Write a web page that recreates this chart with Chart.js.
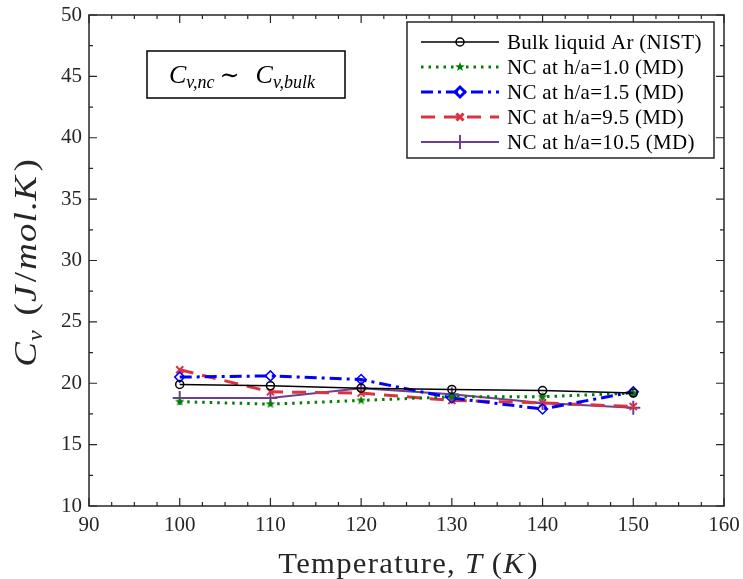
<!DOCTYPE html>
<html>
<head>
<meta charset="utf-8">
<script src="https://cdn.jsdelivr.net/npm/chart.js@4.4.0/dist/chart.umd.min.js"></script>
<style>
  html, body { margin: 0; padding: 0; background: #fff; }
  canvas { display: block; }
</style>
</head>
<body>
<canvas id="cvChart" width="743" height="579"></canvas>
<script>
// temperatures (K) and heat capacity Cv (J/mol.K)
const temps = [100, 110, 120, 130, 140, 150];
const cvBulk = [19.9, 19.8, 19.6, 19.5, 19.4, 19.2];
const cvH10 = [18.5, 18.3, 18.6, 18.9, 18.9, 19.2];
const cvH15 = [20.5, 20.6, 20.3, 18.8, 17.9, 19.3];
const cvH95 = [21.1, 19.3, 19.2, 18.6, 18.4, 18.1];
const cvH105 = [18.8, 18.8, 19.6, 19.1, 18.4, 18.0];

const seriesLabels = [
  'Bulk liquid Ar (NIST)',
  'NC at h/a=1.0 (MD)',
  'NC at h/a=1.5 (MD)',
  'NC at h/a=9.5 (MD)',
  'NC at h/a=10.5 (MD)'
];

const xMin = 90, xMax = 160, xStep = 10;
const yMin = 10, yMax = 50, yStep = 5;

const AXIS = '#262626';
const SERIF = '"Liberation Serif", "DejaVu Serif", serif';

// filled pentagram marker
function starMarker(color, r) {
  const c = document.createElement('canvas');
  const s = Math.ceil(r * 2 + 2);
  c.width = s; c.height = s;
  const g = c.getContext('2d');
  g.fillStyle = color;
  g.beginPath();
  for (let i = 0; i < 10; i++) {
    const rad = i % 2 === 0 ? r : r * 0.42;
    const a = -Math.PI / 2 + i * Math.PI / 5;
    const px = s / 2 + rad * Math.cos(a), py = s / 2 + rad * Math.sin(a);
    if (i === 0) g.moveTo(px, py); else g.lineTo(px, py);
  }
  g.closePath();
  g.fill();
  return c;
}

function pts(vals) {
  return temps.map((t, i) => ({ x: t, y: vals[i] }));
}

const datasets = [
  {
    label: seriesLabels[0], data: pts(cvBulk),
    borderColor: '#000000', borderWidth: 1.5,
    pointStyle: 'circle', pointRadius: 4, pointBorderWidth: 1.5,
    pointBorderColor: '#000000', pointBackgroundColor: 'rgba(0,0,0,0)'
  },
  {
    label: seriesLabels[1], data: pts(cvH10),
    borderColor: '#008000', borderWidth: 3, borderDash: [2.5, 5],
    pointStyle: starMarker('#008000', 5), pointRadius: 5
  },
  {
    label: seriesLabels[2], data: pts(cvH15),
    borderColor: '#0000ff', borderWidth: 3, borderDash: [12, 5, 3, 5],
    pointStyle: 'rectRot', pointRadius: 5, pointBorderWidth: 1.5,
    pointBorderColor: '#0000ff', pointBackgroundColor: 'rgba(0,0,0,0)'
  },
  {
    label: seriesLabels[3], data: pts(cvH95),
    borderColor: '#dc3240', borderWidth: 3, borderDash: [14, 9],
    pointStyle: 'crossRot', pointRadius: 5, pointBorderWidth: 2,
    pointBorderColor: '#dc3240'
  },
  {
    label: seriesLabels[4], data: pts(cvH105),
    borderColor: '#6e3f8e', borderWidth: 2,
    pointStyle: 'cross', pointRadius: 7, pointBorderWidth: 2,
    pointBorderColor: '#6e3f8e'
  }
];
datasets.forEach(d => { d.fill = false; d.tension = 0; d.borderCapStyle = 'butt'; });

// draw a row of mixed-style text pieces, centred on cx
function richText(ctx, parts, cx, baseY) {
  let w = 0;
  parts.forEach(p => { ctx.font = p.font; w += ctx.measureText(p.t).width + (p.gap || 0); });
  let x = cx - w / 2;
  ctx.textAlign = 'left';
  ctx.textBaseline = 'alphabetic';
  parts.forEach(p => {
    ctx.font = p.font;
    ctx.fillText(p.t, x, baseY + (p.dy || 0));
    x += ctx.measureText(p.t).width + (p.gap || 0);
  });
}

const framePlugin = {
  id: 'frame',
  afterDraw(chart) {
    const ctx = chart.ctx;
    const a = chart.chartArea;
    const xs = chart.scales.x, ys = chart.scales.y;
    ctx.save();
    ctx.strokeStyle = AXIS;
    ctx.lineWidth = 1.5;
    ctx.strokeRect(a.left, a.top, a.right - a.left, a.bottom - a.top);

    // inward ticks on all four sides, minor every quarter step
    ctx.lineWidth = 1.2;
    ctx.beginPath();
    for (let v = xMin; v <= xMax + 1e-9; v += xStep / 4) {
      const major = Math.abs((v - xMin) % xStep) < 1e-6;
      const len = major ? 8 : 4;
      const px = xs.getPixelForValue(v);
      ctx.moveTo(px, a.bottom); ctx.lineTo(px, a.bottom - len);
      ctx.moveTo(px, a.top); ctx.lineTo(px, a.top + len);
    }
    for (let v = yMin; v <= yMax + 1e-9; v += yStep / 2) {
      const major = Math.abs((v - yMin) % yStep) < 1e-6;
      const len = major ? 8 : 4;
      const py = ys.getPixelForValue(v);
      ctx.moveTo(a.left, py); ctx.lineTo(a.left + len, py);
      ctx.moveTo(a.right, py); ctx.lineTo(a.right - len, py);
    }
    ctx.stroke();

    ctx.fillStyle = AXIS;
    // x axis title, stretched a little to the width of a TeX font
    const f29 = '29px ' + SERIF, i29 = 'italic 29px ' + SERIF;
    ctx.save();
    ctx.translate((a.left + a.right) / 2 + 2, 573);
    ctx.scale(1.06, 1);
    ctx.letterSpacing = '1.2px';
    richText(ctx, [
      { t: 'Temperature, ', font: f29 },
      { t: 'T', font: i29, gap: 8 },
      { t: '(', font: f29 },
      { t: 'K', font: i29, gap: 2 },
      { t: ')', font: f29 }
    ], 0, 0);
    ctx.restore();

    // y axis title
    ctx.save();
    ctx.translate(36, (a.top + a.bottom) / 2 + 2);
    ctx.rotate(-Math.PI / 2);
    ctx.scale(1.15, 1);
    const i32 = 'italic 32px ' + SERIF, f32 = '32px ' + SERIF;
    ctx.letterSpacing = '1px';
    richText(ctx, [
      { t: 'C', font: i32 },
      { t: 'v', font: 'italic 21px ' + SERIF, dy: 6, gap: 12 },
      { t: '(', font: f32 },
      { t: 'J', font: i32, gap: 2 },
      { t: '/', font: f32, gap: 1 },
      { t: 'mol', font: i32 },
      { t: '.', font: f32 },
      { t: 'K', font: i32, gap: 3 },
      { t: ')', font: f32 }
    ], 0, 0);
    ctx.restore();

    // annotation box
    ctx.lineWidth = 1.5;
    ctx.strokeStyle = '#000';
    ctx.fillStyle = '#000';
    ctx.strokeRect(147, 51, 198, 47);
    const i26 = 'italic 26px ' + SERIF, s18 = 'italic 18px ' + SERIF;
    richText(ctx, [
      { t: 'C', font: i26 },
      { t: 'v,nc', font: s18, dy: 5, gap: 5 },
      { t: '∼', font: '24px ' + SERIF, gap: 16 },
      { t: 'C', font: i26 },
      { t: 'v,bulk', font: s18, dy: 5 }
    ], 242, 83);

    // legend
    const lx = 407, ly = 22, lw = 307, lh = 136;
    ctx.fillStyle = '#fff';
    ctx.fillRect(lx, ly, lw, lh);
    ctx.strokeStyle = AXIS;
    ctx.lineWidth = 1.5;
    ctx.strokeRect(lx, ly, lw, lh);
    chart.data.datasets.forEach((d, i) => {
      const ry = ly + 20 + i * 25;
      ctx.save();
      ctx.strokeStyle = d.borderColor;
      ctx.lineWidth = d.borderWidth;
      ctx.setLineDash(d.borderDash || []);
      ctx.beginPath();
      ctx.moveTo(421, ry); ctx.lineTo(499, ry);
      ctx.stroke();
      ctx.setLineDash([]);
      ctx.strokeStyle = d.pointBorderColor || d.borderColor;
      ctx.fillStyle = d.pointBackgroundColor || d.borderColor;
      Chart.helpers.drawPoint(ctx, {
        pointStyle: d.pointStyle, radius: d.pointRadius, rotation: 0,
        borderWidth: d.pointBorderWidth || 1
      }, 460, ry);
      ctx.restore();
      ctx.fillStyle = '#000';
      ctx.font = '21px ' + SERIF;
      ctx.letterSpacing = '0.3px';
      ctx.textAlign = 'left';
      ctx.textBaseline = 'middle';
      ctx.fillText(d.label, 507, ry + 1);
      ctx.letterSpacing = '0px';
    });
    ctx.restore();
  }
};

new Chart(document.getElementById('cvChart'), {
  type: 'line',
  data: { datasets: datasets },
  options: {
    responsive: false,
    animation: false,
    devicePixelRatio: 1,
    layout: { padding: { left: 0, top: 15, right: 19, bottom: 0 } },
    plugins: { legend: { display: false }, tooltip: { enabled: false } },
    scales: {
      x: {
        type: 'linear', min: xMin, max: xMax,
        grid: { display: false, drawTicks: false }, border: { display: false },
        ticks: { stepSize: xStep, padding: 7, color: AXIS, font: { family: SERIF, size: 21 } },
        afterFit(scale) { scale.height = 73; scale.paddingLeft = 0; scale.paddingRight = 0; }
      },
      y: {
        type: 'linear', min: yMin, max: yMax,
        grid: { display: false, drawTicks: false }, border: { display: false },
        ticks: { stepSize: yStep, padding: 7, color: AXIS, font: { family: SERIF, size: 21 } },
        afterFit(scale) { scale.width = 89; scale.paddingTop = 0; scale.paddingBottom = 0; }
      }
    }
  },
  plugins: [framePlugin]
});
</script>
</body>
</html>
